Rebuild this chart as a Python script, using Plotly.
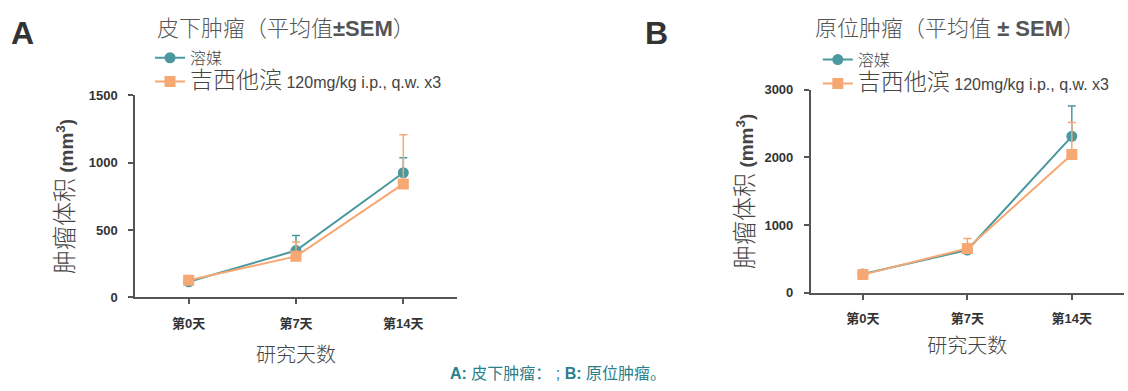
import plotly.graph_objects as go

# Study days and tumour volume data (mean, upper SEM)
days = ["第0天", "第7天", "第14天"]

sc_vehicle = [116, 348, 926]
sc_vehicle_sem = [12, 111, 112]
sc_gem = [128, 305, 843]
sc_gem_sem = [10, 107, 366]

ot_vehicle = [278, 633, 2312]
ot_vehicle_sem = [20, 40, 448]
ot_gem = [270, 657, 2043]
ot_gem_sem = [20, 146, 472]

y_ticks_a = [0, 500, 1000, 1500]
y_ticks_b = [0, 1000, 2000, 3000]

TEAL = "#4b98a0"
ORANGE = "#f7a872"
MIX = "Liberation Sans, Noto Sans CJK SC, sans-serif"
LAT = "Liberation Sans, Arial, sans-serif"

vehicle_name = "溶媒"
gem_name = "<span style='font-size:23px'>吉西他滨</span> 120mg/kg i.p., q.w. x3"

fig = go.Figure()


def add_series(x_ref, y_ref, legend, vals, sem, color, symbol, size, name):
    fig.add_trace(go.Scatter(
        x=days, y=vals, xaxis=x_ref, yaxis=y_ref, legend=legend,
        name=name, mode="lines+markers",
        line=dict(color=color, width=2),
        marker=dict(color=color, symbol=symbol, size=size),
        error_y=dict(type="data", symmetric=False, array=sem,
                     arrayminus=[0] * len(sem), color=color,
                     thickness=1.5, width=4),
    ))


add_series("x", "y", "legend", sc_vehicle, sc_vehicle_sem, TEAL, "circle", 11, vehicle_name)
add_series("x", "y", "legend", sc_gem, sc_gem_sem, ORANGE, "square", 11, gem_name)
add_series("x2", "y2", "legend2", ot_vehicle, ot_vehicle_sem, TEAL, "circle", 11, vehicle_name)
add_series("x2", "y2", "legend2", ot_gem, ot_gem_sem, ORANGE, "square", 11, gem_name)

axis_common = dict(
    showline=True, linecolor="#555", linewidth=1.5,
    ticks="outside", ticklen=5, tickcolor="#555", tickwidth=1.5,
    showgrid=False, zeroline=False, ticklabelstandoff=8,
    tickfont=dict(family=MIX, size=13, color="#333", weight="bold"),
)

ytitle = "<span style='font-size:24px'>肿瘤体积</span> <b>(mm<sup>3</sup>)</b>"
xtitle = "研究天数"
xtitle_font = dict(size=20, color="#444", family=MIX, weight=300)
ytitle_font = dict(size=19, color="#444", family=MIX, weight=300)

fig.update_layout(
    width=1128, height=391,
    margin=dict(l=0, r=0, t=0, b=0),
    paper_bgcolor="white", plot_bgcolor="white",
    font=dict(family=MIX, color="#555"),
    xaxis=dict(domain=[0.1197, 0.4051], range=[-0.5, 2.5], anchor="y",
               title=dict(text=xtitle, font=xtitle_font, standoff=18),
               **axis_common),
    yaxis=dict(domain=[0.2276, 0.7647], range=[0, 1500], anchor="x",
               tickvals=y_ticks_a,
               title=dict(text=ytitle, font=ytitle_font, standoff=10),
               **axis_common),
    xaxis2=dict(domain=[0.7187, 0.9965], range=[-0.5, 2.5], anchor="y2",
                title=dict(text=xtitle, font=xtitle_font, standoff=14),
                **axis_common),
    yaxis2=dict(domain=[0.2396, 0.78], range=[0, 3000], anchor="x2",
                tickvals=y_ticks_b,
                title=dict(text=ytitle, font=ytitle_font, standoff=6),
                **axis_common),
    legend=dict(x=0.133, y=0.91, xanchor="left", yanchor="top",
                font=dict(family=MIX, size=16, color="#444", weight=300),
                bgcolor="rgba(0,0,0,0)", tracegroupgap=0, itemwidth=30),
    legend2=dict(x=0.725, y=0.905, xanchor="left", yanchor="top",
                 font=dict(family=MIX, size=16, color="#444", weight=300),
                 bgcolor="rgba(0,0,0,0)", tracegroupgap=0, itemwidth=30),
    showlegend=True,
)


def note(text, x, y, size, color, family=MIX, weight=None):
    fig.add_annotation(text=text, x=x / 1128, y=1 - y / 391, xref="paper", yref="paper",
                       xanchor="center", yanchor="middle", showarrow=False,
                       font=dict(family=family, size=size, color=color, weight=weight))


# Panel letters, panel titles and footnote
note("<b>A</b>", 22, 27, 32, "#333", LAT)
note("<b>B</b>", 656, 27, 32, "#333", LAT)
note("皮下肿瘤（平均值<b>±SEM</b>）", 286, 22, 22, "#555", weight=300)
note("原位肿瘤（平均值 <b>± SEM</b>）", 950, 22, 22, "#555", weight=300)
note("<b>A:</b> 皮下肿瘤： ; <b>B:</b> 原位肿瘤。", 558, 381, 16, "#2a7f8c")

fig.write_html("out.html")
